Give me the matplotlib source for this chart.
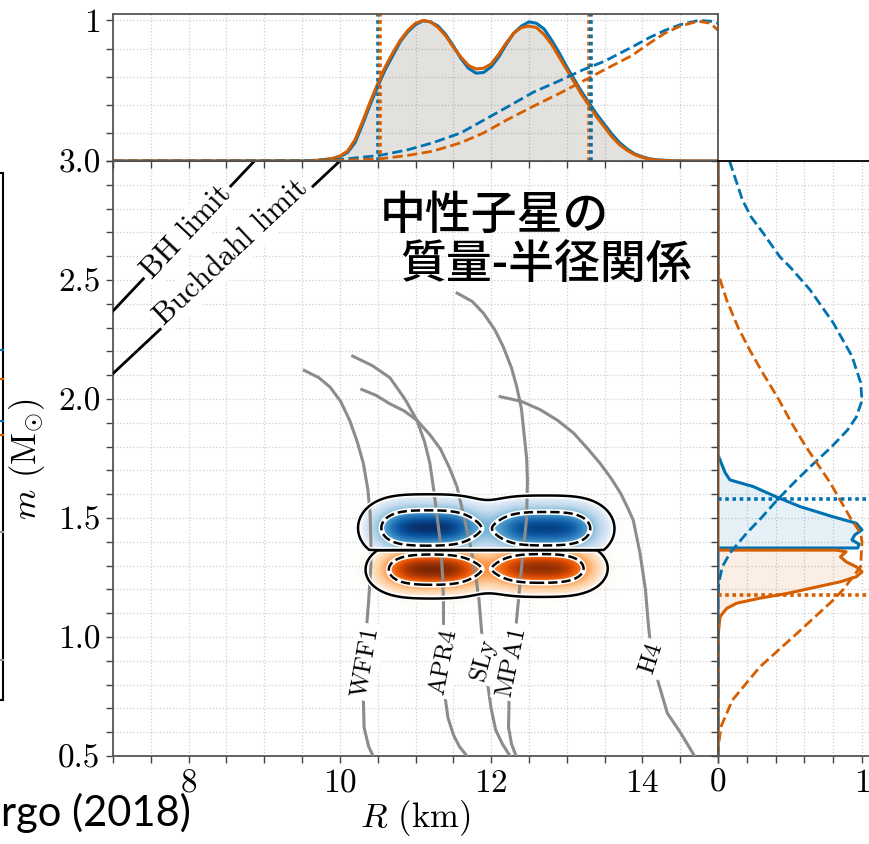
import math
import numpy as np
import matplotlib.pyplot as plt
from matplotlib.colors import ListedColormap
from matplotlib.ticker import MultipleLocator
from matplotlib.patches import Rectangle
from matplotlib.lines import Line2D

plt.rcParams['font.family'] = 'serif'
plt.rcParams['font.serif'] = ['cmr10']
plt.rcParams['mathtext.fontset'] = 'cm'
plt.rcParams['axes.formatter.use_mathtext'] = True

BLUE = '#0072b2'
ORANGE = '#d55e00'
EOS_GRAY = '#8c8c8c'

# --- radius marginal (top panel) ---
R_post = [7.0, 9.5, 9.7, 9.9, 10.0, 10.1, 10.2, 10.3, 10.4, 10.5, 10.6, 10.7, 10.8, 10.9,
          11.0, 11.1, 11.2, 11.3, 11.4, 11.5, 11.6, 11.7, 11.8, 11.9, 12.0, 12.1, 12.2,
          12.3, 12.4, 12.5, 12.6, 12.7, 12.8, 12.9, 13.0, 13.1, 13.2, 13.3, 13.4, 13.5,
          13.6, 13.7, 13.8, 13.9, 14.0, 14.1, 14.2, 14.4, 14.6, 15.0]
R1_post = [0, 0, 0.004, 0.015, 0.03, 0.06, 0.13, 0.26, 0.40, 0.53, 0.65, 0.75, 0.85, 0.92,
           0.97, 0.998, 0.99, 0.96, 0.90, 0.82, 0.73, 0.66, 0.625, 0.63, 0.67, 0.74, 0.83,
           0.91, 0.96, 0.99, 0.98, 0.94, 0.86, 0.77, 0.67, 0.58, 0.49, 0.41, 0.33, 0.26,
           0.19, 0.13, 0.085, 0.05, 0.03, 0.015, 0.008, 0.002, 0, 0]
R2_post = [0, 0, 0.005, 0.018, 0.035, 0.07, 0.15, 0.28, 0.42, 0.55, 0.67, 0.77, 0.86, 0.93,
           0.98, 1.0, 0.99, 0.95, 0.89, 0.81, 0.74, 0.68, 0.655, 0.66, 0.69, 0.76, 0.84,
           0.91, 0.95, 0.96, 0.95, 0.90, 0.83, 0.74, 0.65, 0.56, 0.47, 0.39, 0.31, 0.24,
           0.17, 0.115, 0.075, 0.045, 0.025, 0.013, 0.006, 0.001, 0, 0]
R_prior = [7.0, 9.5, 10.0, 10.53, 10.9, 11.23, 11.6, 11.9, 12.2, 12.56, 12.9, 13.22, 13.5,
           13.86, 14.1, 14.3, 14.5, 14.74, 14.9, 15.0]
R1_prior = [0, 0.003, 0.01, 0.04, 0.08, 0.13, 0.2, 0.29, 0.38, 0.49, 0.57, 0.65, 0.71, 0.81,
            0.88, 0.93, 0.97, 1.0, 0.995, 0.98]
R2_prior = [0, 0, 0.004, 0.015, 0.04, 0.07, 0.13, 0.2, 0.29, 0.39, 0.48, 0.57, 0.65, 0.75,
            0.84, 0.91, 0.96, 0.995, 0.98, 0.93]
R_bounds = [10.52, 13.31]

# --- mass marginals (right panel) ---
m1_post = [0.5, 1.374, 1.374, 1.39, 1.408, 1.429, 1.45, 1.478, 1.505, 1.548, 1.59, 1.632,
           1.66, 1.69, 1.744, 1.765, 3.0]
p1_post = [0, 0, 0.97, 0.98, 0.93, 0.95, 1.0, 0.96, 0.80, 0.57, 0.40, 0.245, 0.083, 0.05,
           0.014, 0, 0]
m2_post = [3.0, 1.365, 1.365, 1.358, 1.337, 1.316, 1.295, 1.274, 1.253, 1.232, 1.211,
           1.183, 1.163, 1.142, 1.12, 1.085, 1.015, 0.5]
p2_post = [0, 0, 0.82, 0.89, 0.85, 0.89, 0.96, 1.0, 0.96, 0.85, 0.69, 0.48, 0.29, 0.13,
           0.06, 0.014, 0.002, 0]
m1_prior = [3.0, 2.836, 2.765, 2.70, 2.597, 2.555, 2.458, 2.32, 2.18, 2.07, 1.994, 1.924,
            1.87, 1.80, 1.715, 1.65, 1.575, 1.50, 1.437, 1.353, 1.295, 1.226, 1.15, 0.5]
p1_prior = [0.08, 0.17, 0.23, 0.31, 0.43, 0.50, 0.64, 0.80, 0.93, 0.99, 1.0, 0.96, 0.90,
            0.79, 0.64, 0.53, 0.41, 0.30, 0.20, 0.083, 0.03, 0.005, 0, 0]
m2_prior = [3.0, 2.55, 2.51, 2.416, 2.30, 2.206, 2.10, 2.0, 1.90, 1.80, 1.647, 1.50, 1.437,
            1.40, 1.295, 1.20, 1.155, 1.016, 0.874, 0.735, 0.622, 0.525, 0.5]
p2_prior = [0, 0, 0.01, 0.06, 0.14, 0.22, 0.32, 0.42, 0.51, 0.61, 0.78, 0.92, 0.99, 1.0,
            0.99, 0.87, 0.80, 0.55, 0.29, 0.10, 0.02, 0.0, 0.0]
m1_upper = 1.58
m2_lower = 1.177
m_split = 1.365

# --- joint (R, m) posterior lobes: R_lo, R_hi, m0, sigma_R, sigma_m, weight ---
m1_lobes = [(10.55, 11.78, 1.458, 0.22, 0.063, 1.0),
            (12.08, 13.33, 1.455, 0.22, 0.063, 0.93)]
m2_lobes = [(10.65, 11.78, 1.283, 0.22, 0.054, 1.0),
            (12.08, 13.24, 1.288, 0.22, 0.054, 0.93)]
solid_level, dashed_level = 0.08, 0.5

# --- equations of state ---
eos_names = ['WFF1', 'APR4', 'SLy', 'MPA1', 'H4']
eos_R = [
    [9.53, 9.72, 9.87, 10.01, 10.13, 10.23, 10.31, 10.37, 10.40, 10.41, 10.41, 10.38, 10.35,
     10.33, 10.31, 10.31, 10.32, 10.38, 10.44],
    [10.17, 10.43, 10.66, 10.86, 11.02, 11.12, 11.19, 11.24, 11.28, 11.33, 11.36, 11.37,
     11.37, 11.39, 11.43, 11.50, 11.58, 11.68],
    [10.29, 10.48, 10.66, 10.85, 11.02, 11.19, 11.33, 11.45, 11.55, 11.63, 11.72, 11.79,
     11.84, 11.88, 11.95, 12.00, 12.06, 12.15, 12.25],
    [11.55, 11.75, 11.90, 12.05, 12.16, 12.27, 12.34, 12.40, 12.43, 12.47, 12.48, 12.47,
     12.42, 12.36, 12.30, 12.24, 12.23, 12.27, 12.33],
    [12.12, 12.40, 12.65, 12.88, 13.09, 13.28, 13.44, 13.59, 13.71, 13.81, 13.88, 13.97,
     14.04, 14.08, 14.12, 14.21, 14.33, 14.50, 14.69],
]
eos_m = [
    [2.12, 2.09, 2.05, 1.99, 1.91, 1.82, 1.73, 1.62, 1.52, 1.40, 1.30, 1.15, 1.03, 0.95,
     0.85, 0.75, 0.62, 0.54, 0.50],
    [2.18, 2.14, 2.09, 2.00, 1.91, 1.82, 1.73, 1.62, 1.52, 1.395, 1.25, 1.15, 0.95, 0.75,
     0.66, 0.59, 0.54, 0.50],
    [2.04, 2.015, 1.98, 1.95, 1.91, 1.85, 1.79, 1.71, 1.63, 1.52, 1.395, 1.27, 1.155, 1.0,
     0.81, 0.70, 0.61, 0.55, 0.50],
    [2.445, 2.41, 2.36, 2.29, 2.22, 2.13, 2.05, 1.96, 1.87, 1.75, 1.66, 1.50, 1.35, 1.15,
     0.95, 0.78, 0.62, 0.55, 0.50],
    [2.01, 1.99, 1.955, 1.91, 1.857, 1.79, 1.73, 1.665, 1.605, 1.54, 1.49, 1.35, 1.20,
     1.05, 0.93, 0.81, 0.68, 0.60, 0.50],
]
eos_label_R = [10.34, 11.38, 11.90, 12.27, 14.12]
eos_label_m = [0.895, 0.895, 0.905, 0.895, 0.91]
eos_label_rot = [80, 79, 75, 78, 72]

# compactness limits
bh_R, bh_m = [7.0, 8.87], [2.37, 3.0]
bd_R, bd_m = [7.0, 10.0], [2.107, 3.0]

W, H = 869, 844
fig = plt.figure(figsize=(W / 100, H / 100), dpi=100)


def px_box(x0, y0, x1, y1):
    return [x0 / W, 1 - y1 / H, (x1 - x0) / W, (y1 - y0) / H]


ax = fig.add_axes(px_box(113, 161, 718, 756))
axt = fig.add_axes(px_box(113, 14, 718, 161))
axr = fig.add_axes(px_box(718, 161, 878, 756))

grid_kw = dict(color='#cfcfcf', ls=':', lw=0.9)
tick_kw = dict(direction='out', length=5, width=1, color='#444444', labelsize=24, pad=4)
for a in (ax, axt, axr):
    a.set_axisbelow(True)
    a.grid(True, which='both', **grid_kw)
    a.tick_params(which='both', **tick_kw)
    for s in a.spines.values():
        s.set_color('#555555')
        s.set_linewidth(1.3)
ax.spines['top'].set_color('k')
axr.spines['top'].set_color('k')

# --- main panel ---
ax.set_xlim(7, 15)
ax.set_ylim(0.5, 3.0)
ax.set_xticks([8, 10, 12, 14])
ax.xaxis.set_minor_locator(MultipleLocator(0.5))
ax.set_yticks([0.5, 1.0, 1.5, 2.0, 2.5, 3.0])
ax.set_yticklabels(['0.5', '1.0', '1.5', '2.0', '2.5', '3.0'])
ax.yaxis.set_minor_locator(MultipleLocator(0.1))
ax.set_xlabel('$R$ (km)', fontsize=25, labelpad=0)
ax.set_ylabel(r'$m$ ($\mathrm{M}_{\odot}$)', fontsize=25, labelpad=8)

Rg = np.linspace(9.6, 14.4, 481)
mg = np.linspace(1.0, 1.8, 401)
RR, MM = np.meshgrid(Rg, mg)
erf = np.vectorize(math.erf)


def lobe_field(lobes):
    z = np.zeros_like(RR)
    for lo, hi, m0, sr, sm, w in lobes:
        prof_R = 0.5 * (erf((Rg - lo) / (sr * np.sqrt(2))) - erf((Rg - hi) / (sr * np.sqrt(2))))
        prof_m = np.exp(-0.5 * ((mg - m0) / sm) ** 2)
        z += w * np.outer(prof_m, prof_R)
    return z / z.max()


def fade_cmap(name):
    c = plt.get_cmap(name)(np.linspace(0, 1, 256))
    c[:, 3] = np.clip(np.linspace(0, 1, 256) * 6, 0, 1)
    return ListedColormap(c)


z1 = lobe_field(m1_lobes)
z1[MM < m_split] = 0
z2 = lobe_field(m2_lobes)
z2[MM > m_split] = 0

for z, cm in ((z1, 'Blues'), (z2, 'Oranges')):
    ax.imshow(z, extent=[Rg[0], Rg[-1], mg[0], mg[-1]], origin='lower',
              aspect='auto', cmap=fade_cmap(cm), vmin=0, vmax=1.0,
              interpolation='bilinear', zorder=2)

for z in (z1, z2):
    ax.contour(RR, MM, z, levels=[solid_level], colors='w', linewidths=4, zorder=4)
    ax.contour(RR, MM, z, levels=[solid_level], colors='k', linewidths=1.8, zorder=5)
    ax.contour(RR, MM, z, levels=[dashed_level], colors='w', linewidths=4, zorder=4)
    ax.contour(RR, MM, z, levels=[dashed_level], colors='k', linewidths=1.8,
               linestyles='--', zorder=5)

for name, r, m, lr, lm, rot in zip(eos_names, eos_R, eos_m, eos_label_R,
                                   eos_label_m, eos_label_rot):
    ax.plot(r, m, color=EOS_GRAY, lw=2.2, zorder=3)
    ax.text(lr, lm, name, rotation=rot, ha='center', va='center', fontsize=18,
            zorder=3.5, bbox=dict(boxstyle='square,pad=0.12', fc='white', ec='none'))

ax.plot(bh_R, bh_m, color='k', lw=2, zorder=3)
ax.plot(bd_R, bd_m, color='k', lw=2, zorder=3)
ax.text(7.98, 2.70, 'BH limit', rotation=46.7, ha='center', va='center', fontsize=22,
        zorder=3.5, bbox=dict(boxstyle='square,pad=0.12', fc='white', ec='none'))
ax.text(8.57, 2.615, 'Buchdahl limit', rotation=43.2, ha='center', va='center', fontsize=22,
        zorder=3.5, bbox=dict(boxstyle='square,pad=0.12', fc='white', ec='none'))

ax.text(10.53, 2.773, '中性子星の', fontsize=33, family=['Noto Sans CJK JP'],
        weight='medium', ha='left', va='center', zorder=6)
ax.text(10.80, 2.563, '質量-半径関係', fontsize=33, family=['Noto Sans CJK JP'],
        weight='medium', ha='left', va='center', zorder=6)

# --- top panel ---
axt.set_xlim(7, 15)
axt.set_ylim(0, 1.046)
axt.xaxis.set_minor_locator(MultipleLocator(0.5))
axt.set_xticks([8, 10, 12, 14])
axt.tick_params(labelbottom=False)
axt.set_yticks([1])
axt.set_yticklabels(['1'])
axt.yaxis.set_minor_locator(MultipleLocator(0.2))
axt.fill_between(R_post, R1_post, color=BLUE, alpha=0.1, lw=0)
axt.fill_between(R_post, R2_post, color=ORANGE, alpha=0.1, lw=0)
axt.plot(R_post, R1_post, color=BLUE, lw=2.2)
axt.plot(R_post, R2_post, color=ORANGE, lw=2.2)
axt.plot(R_prior, R1_prior, color=BLUE, lw=2, ls='--')
axt.plot(R_prior, R2_prior, color=ORANGE, lw=2, ls='--')
axt.axvline(R_bounds[0] - 0.012, color=BLUE, lw=2.6, ls=(0, (1, 1)))
axt.axvline(R_bounds[0] + 0.012, color=ORANGE, lw=2.6, ls=(0, (1, 1)))
axt.axvline(R_bounds[1] - 0.012, color=ORANGE, lw=2.6, ls=(0, (1, 1)))
axt.axvline(R_bounds[1] + 0.012, color=BLUE, lw=2.6, ls=(0, (1, 1)))

# --- right panel ---
axr.set_ylim(0.5, 3.0)
axr.set_xlim(0, 1.111)
axr.set_xticks([0, 1])
axr.set_xticklabels(['0', '1'])
axr.xaxis.set_minor_locator(MultipleLocator(0.2))
axr.yaxis.set_minor_locator(MultipleLocator(0.1))
axr.set_yticks([0.5, 1.0, 1.5, 2.0, 2.5, 3.0])
axr.tick_params(labelleft=False)
axr.fill_betweenx(m1_post, 0, p1_post, color=BLUE, alpha=0.1, lw=0)
axr.fill_betweenx(m2_post, 0, p2_post, color=ORANGE, alpha=0.1, lw=0)
axr.plot(p1_post, m1_post, color=BLUE, lw=2.2)
axr.plot(p2_post, m2_post, color=ORANGE, lw=2.2)
axr.plot(p1_prior, m1_prior, color=BLUE, lw=2, ls='--')
axr.plot(p2_prior, m2_prior, color=ORANGE, lw=2, ls='--')
axr.axhline(m1_upper, color=BLUE, lw=2.6, ls=(0, (1, 1)))
axr.axhline(m2_lower, color=ORANGE, lw=2.6, ls=(0, (1, 1)))

# left-hand legend frame, mostly outside the figure
fig.add_artist(Rectangle((-0.1, 1 - 700 / H), 0.1 + 3 / W, (700 - 173) / H, fill=False,
                         ec='k', lw=1.5, transform=fig.transFigure))
for yy, col in ((350, BLUE), (379, ORANGE), (421, BLUE), (435, ORANGE),
                (532, '#999999'), (660, '#999999')):
    fig.add_artist(Line2D([0, 3 / W], [1 - yy / H] * 2, color=col, lw=1.5,
                          transform=fig.transFigure))

fig.text(1 / W, 1 - 826 / H, 'rgo (2018)', fontsize=30, family=['Lato'],
         ha='left', va='baseline')

fig.savefig('out.png', dpi=100)
